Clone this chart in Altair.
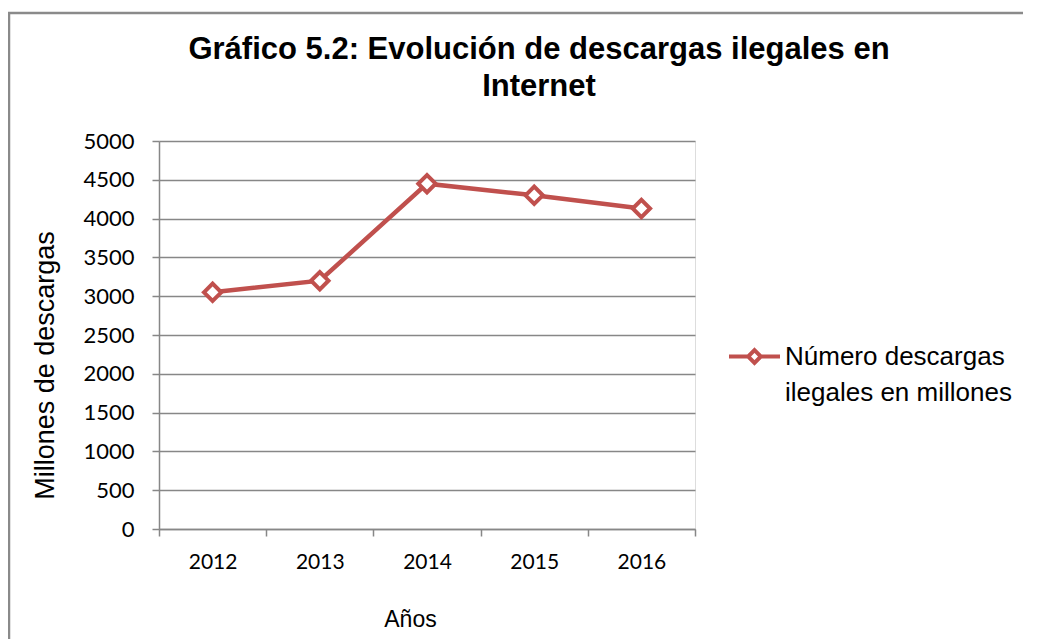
import altair as alt
import pandas as pd

years = ["2012", "2013", "2014", "2015", "2016"]
downloads = [3050, 3200, 4450, 4300, 4130]
series_name = "Número descargas ilegales en millones"
legend_lines = ["Número descargas", "ilegales en millones"]
y_ticks = [0, 500, 1000, 1500, 2000, 2500, 3000, 3500, 4000, 4500, 5000]
title_lines = ["Gráfico 5.2: Evolución de descargas ilegales en", "Internet"]

df = pd.DataFrame({"Año": years, "Descargas": downloads, "Serie": [series_name] * len(years)})

RED = "#C0504D"
GRID = "#878787"
ARIAL = "Liberation Sans"
CAL = "Lato"

x_enc = alt.X(
    "Año:O",
    title="Años",
    scale=alt.Scale(type="band", paddingInner=0, paddingOuter=0),
    axis=alt.Axis(
        labelAngle=0, tickBand="extent", grid=False, domainColor=GRID, domainWidth=1.5,
        tickColor=GRID, tickWidth=1.5, tickSize=7, labelFont=CAL, labelFontSize=21,
        labelColor="#000000", labelPadding=15, titleFont=ARIAL, titleFontSize=23,
        titleFontWeight="normal", titleColor="#000000", titleX=251, titleY=90,
        titleBaseline="middle",
    ),
)
y_enc = alt.Y(
    "Descargas:Q",
    title="Millones de descargas",
    scale=alt.Scale(domain=[0, 5000], nice=False),
    axis=alt.Axis(
        values=y_ticks, format="d", grid=True, gridColor=GRID, gridWidth=1.5,
        domainColor=GRID, domainWidth=1.5, tickColor=GRID, tickWidth=1.5, tickSize=7,
        labelFont=CAL, labelFontSize=22, labelColor="#000000", labelPadding=18,
        titleFont=ARIAL, titleFontSize=27, titleFontWeight="normal", titleColor="#000000",
        titleX=-114, titleY=224, titleBaseline="middle", titleAngle=270,
    ),
)
color_enc = alt.Color(
    "Serie:N",
    scale=alt.Scale(range=[RED]),
    legend=alt.Legend(
        title=None, orient="none", legendX=568, legendY=188,
        symbolType="M-1,0L-0.27,0M0.27,0L1,0M0,-0.25L0.25,0L0,0.25L-0.25,0Z",
        symbolSize=2601, symbolStrokeWidth=4, symbolFillColor="white",
        symbolStrokeColor=RED, labelFont=ARIAL, labelFontSize=26, labelColor="#000000",
        labelLimit=500, labelOffset=3, labelBaseline="middle",
        labelExpr="['" + "', '".join(legend_lines) + "']",
    ),
)

line = alt.Chart(df).mark_line(strokeWidth=4.5).encode(x=x_enc, y=y_enc, color=color_enc)
points = alt.Chart(df).mark_point(
    shape="diamond", size=300, filled=True, fill="white", strokeWidth=4, opacity=1
).encode(x=x_enc, y=y_enc, stroke=alt.Stroke("Serie:N", scale=alt.Scale(range=[RED]), legend=None))

border = alt.Chart(pd.DataFrame({"k": [0]})).mark_rect(
    fill="transparent", stroke="#8a8a8a", strokeWidth=2.5
).encode(x=alt.value(-150), x2=alt.value(900), y=alt.value(-128), y2=alt.value(700))

chart = alt.layer(border, line, points).properties(
    width=536,
    height=388,
    title=alt.TitleParams(
        text=title_lines, anchor="middle", frame="group", dx=112, offset=-91,
        font=ARIAL, fontSize=31, fontWeight="bold", color="#000000", lineHeight=37,
    ),
    autosize=alt.AutoSizeParams(type="none"),
    padding={"left": 151, "top": 133, "right": 328, "bottom": 110},
).configure_view(stroke=None).configure(style={"guide-label": {"lineHeight": 36}})

chart.save("out.html", embed_options={"renderer": "svg", "actions": False})
